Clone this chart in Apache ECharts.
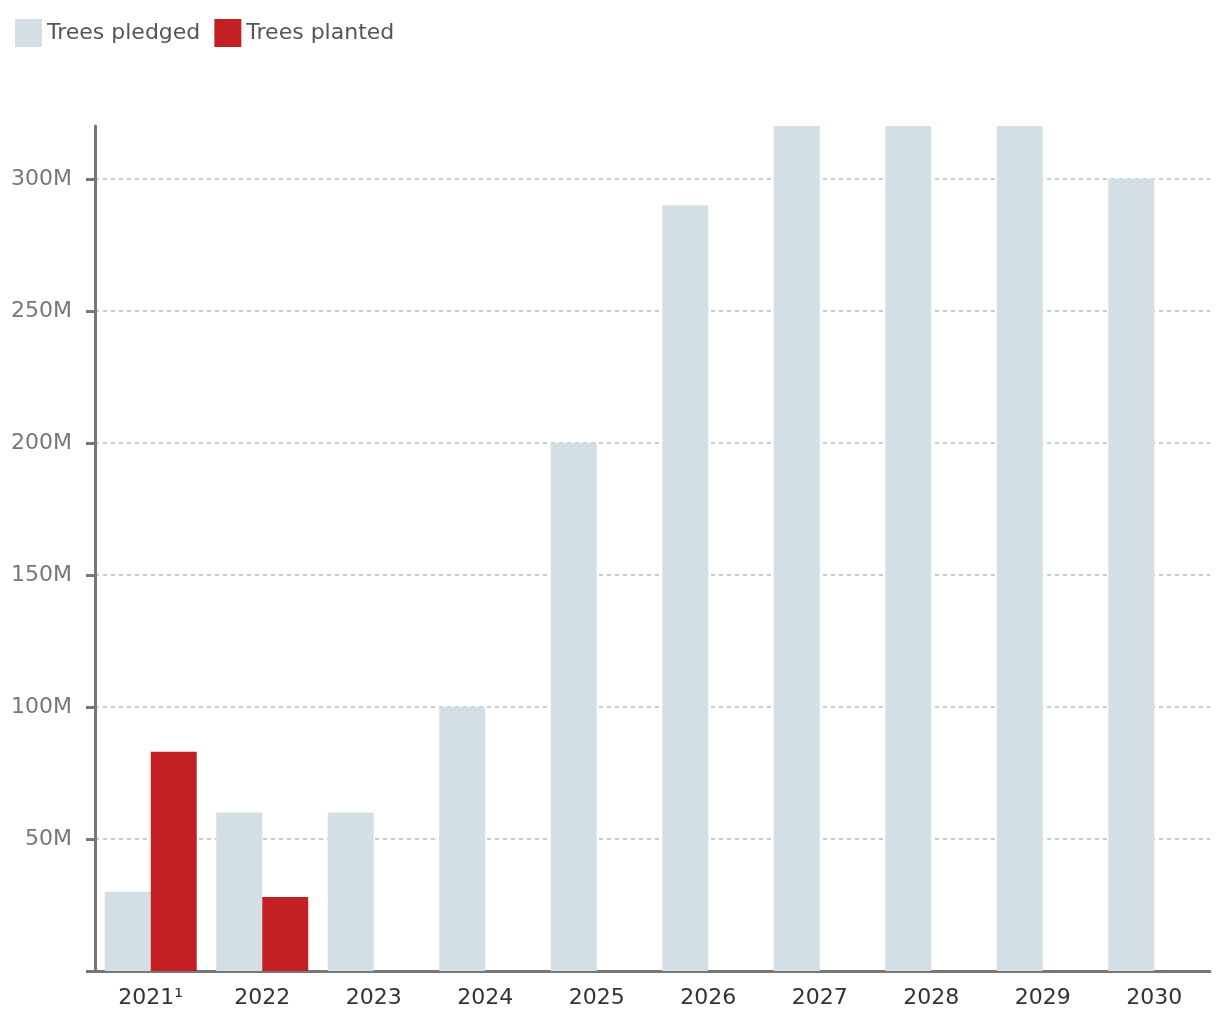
<!DOCTYPE html>
<html><head><meta charset="utf-8">
<script src="https://cdn.jsdelivr.net/npm/echarts@6/dist/echarts.min.js"></script>
<style>html,body{margin:0;padding:0;background:#fff}#c{width:1220px;height:1020px}</style>
</head><body><div id="c"></div>
<script>
const categories = ['2021\u00b9','2022','2023','2024','2025','2026','2027','2028','2029','2030'];
const treesPledged = [30, 60, 60, 100, 200, 290, 320, 320, 320, 300];
const treesPlanted = [83, 28, null, null, null, null, null, null, null, null];
const yTickValues = [0, 50, 100, 150, 200, 250, 300];
const yMax = 320;

const font = '"DejaVu Sans", sans-serif';
const chart = echarts.init(document.getElementById('c'));
chart.setOption({
  animation: false,
  textStyle: {fontFamily: font},
  legend: {
    left: 10, top: 14, itemWidth: 27, itemHeight: 28, itemGap: 14,
    icon: 'rect',
    textStyle: {fontSize: 22, color: '#555', fontFamily: font},
    data: ['Trees pledged', 'Trees planted']
  },
  grid: {left: 95, right: 10, top: 126, bottom: 49, containLabel: false},
  xAxis: {
    type: 'category', data: categories,
    axisLine: {lineStyle: {color: '#777', width: 3}},
    axisTick: {show: false},
    axisLabel: {fontSize: 22, color: '#333', margin: 16, fontFamily: font}
  },
  yAxis: {
    type: 'value', min: 0, max: yMax, interval: 50,
    axisLine: {show: true, lineStyle: {color: '#777', width: 3}},
    axisTick: {show: true, length: 9, customValues: yTickValues, lineStyle: {color: '#777', width: 3}},
    axisLabel: {fontSize: 22, color: '#777', margin: 23, fontFamily: font,
      customValues: yTickValues,
      formatter: v => v === 0 ? '' : v + 'M'},
    splitLine: {show: true, showMinLine: false,
      lineStyle: {color: '#b5bfc3', width: 1.5, type: [4, 4]}}
  },
  series: [
    {name: 'Trees pledged', type: 'bar', data: treesPledged, itemStyle: {color: '#d3dfe4'},
     barGap: 0, barCategoryGap: '17.5%', z: 1},
    {name: 'Trees planted', type: 'bar', data: treesPlanted, itemStyle: {color: '#c32026'},
     barGap: 0, barCategoryGap: '17.5%', z: 1}
  ]
});
</script></body></html>
